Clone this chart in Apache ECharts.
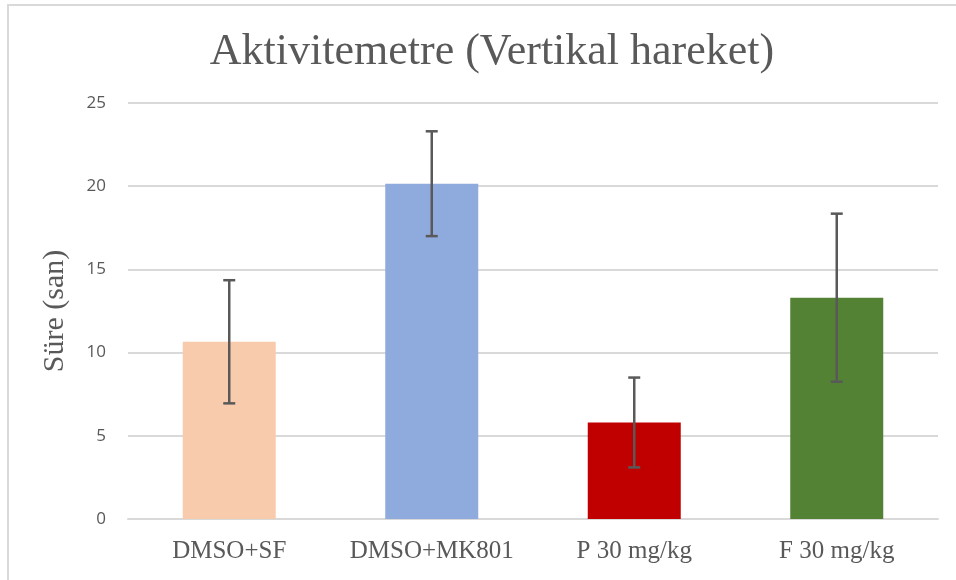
<!DOCTYPE html>
<html>
<head>
<meta charset="utf-8">
<script src="https://cdn.jsdelivr.net/npm/echarts@6/dist/echarts.min.js"></script>
<style>
html, body { margin: 0; padding: 0; background: #fff; }
#main { width: 956px; height: 580px; }
</style>
</head>
<body>
<div id="main"></div>
<script>
var categories = ['DMSO+SF', 'DMSO+MK801', 'P 30 mg/kg', 'F 30 mg/kg'];
var means = [10.65, 20.15, 5.8, 13.3];
var errors = [3.7, 3.15, 2.7, 5.05];
var barColors = ['#F8CBAD', '#8FAADC', '#C00000', '#548235'];
var yTicks = { min: 0, max: 25, interval: 5 };

var dom = document.getElementById('main');
var myChart = echarts.init(dom);

var barData = means.map(function (v, i) {
    return { value: v, itemStyle: { color: barColors[i] } };
});
var errData = means.map(function (v, i) {
    return [i, v - errors[i], v + errors[i]];
});

var option = {
    backgroundColor: '#fff',
    animation: false,
    title: {
        text: 'Aktivitemetre (Vertikal hareket)',
        left: 487,
        textAlign: 'center',
        top: 25,
        textStyle: {
            fontFamily: 'Liberation Serif',
            fontWeight: 'normal',
            fontSize: 44,
            color: '#595959'
        }
    },
    graphic: [{
        type: 'polyline',
        shape: { points: [[8, 582], [8, 5], [960, 5]] },
        style: { stroke: '#D9D9D9', lineWidth: 2, fill: null },
        silent: true
    }],
    grid: {
        left: 128,
        right: 18,
        top: 103,
        bottom: 61
    },
    xAxis: {
        type: 'category',
        data: categories,
        axisLine: { lineStyle: { color: '#D9D9D9', width: 2 } },
        axisTick: { show: false },
        axisLabel: {
            interval: 0,
            margin: 20,
            fontFamily: 'Liberation Serif',
            fontSize: 25,
            color: '#595959'
        }
    },
    yAxis: {
        type: 'value',
        min: yTicks.min,
        max: yTicks.max,
        interval: yTicks.interval,
        name: 'Süre (san)',
        nameLocation: 'middle',
        nameGap: 58,
        nameTextStyle: {
            fontFamily: 'Liberation Serif',
            fontSize: 30,
            color: '#595959'
        },
        axisLine: { show: false },
        axisTick: { show: false },
        axisLabel: {
            margin: 22,
            fontFamily: 'Open Sans',
            fontSize: 17,
            color: '#595959'
        },
        splitLine: { lineStyle: { color: '#D9D9D9', width: 2 } }
    },
    series: [
        {
            type: 'bar',
            data: barData,
            barWidth: 93
        },
        {
            type: 'custom',
            data: errData,
            z: 10,
            renderItem: function (params, api) {
                var x = api.value(0);
                var lo = api.coord([x, api.value(1)]);
                var hi = api.coord([x, api.value(2)]);
                var half = 6;
                var st = { stroke: '#595959', lineWidth: 2.5 };
                return {
                    type: 'group',
                    children: [
                        { type: 'line', shape: { x1: hi[0], y1: hi[1], x2: lo[0], y2: lo[1] }, style: st },
                        { type: 'line', shape: { x1: hi[0] - half, y1: hi[1], x2: hi[0] + half, y2: hi[1] }, style: st },
                        { type: 'line', shape: { x1: lo[0] - half, y1: lo[1], x2: lo[0] + half, y2: lo[1] }, style: st }
                    ]
                };
            }
        }
    ]
};

if (option && typeof option === 'object') {
    myChart.setOption(option);
}
</script>
</body>
</html>
